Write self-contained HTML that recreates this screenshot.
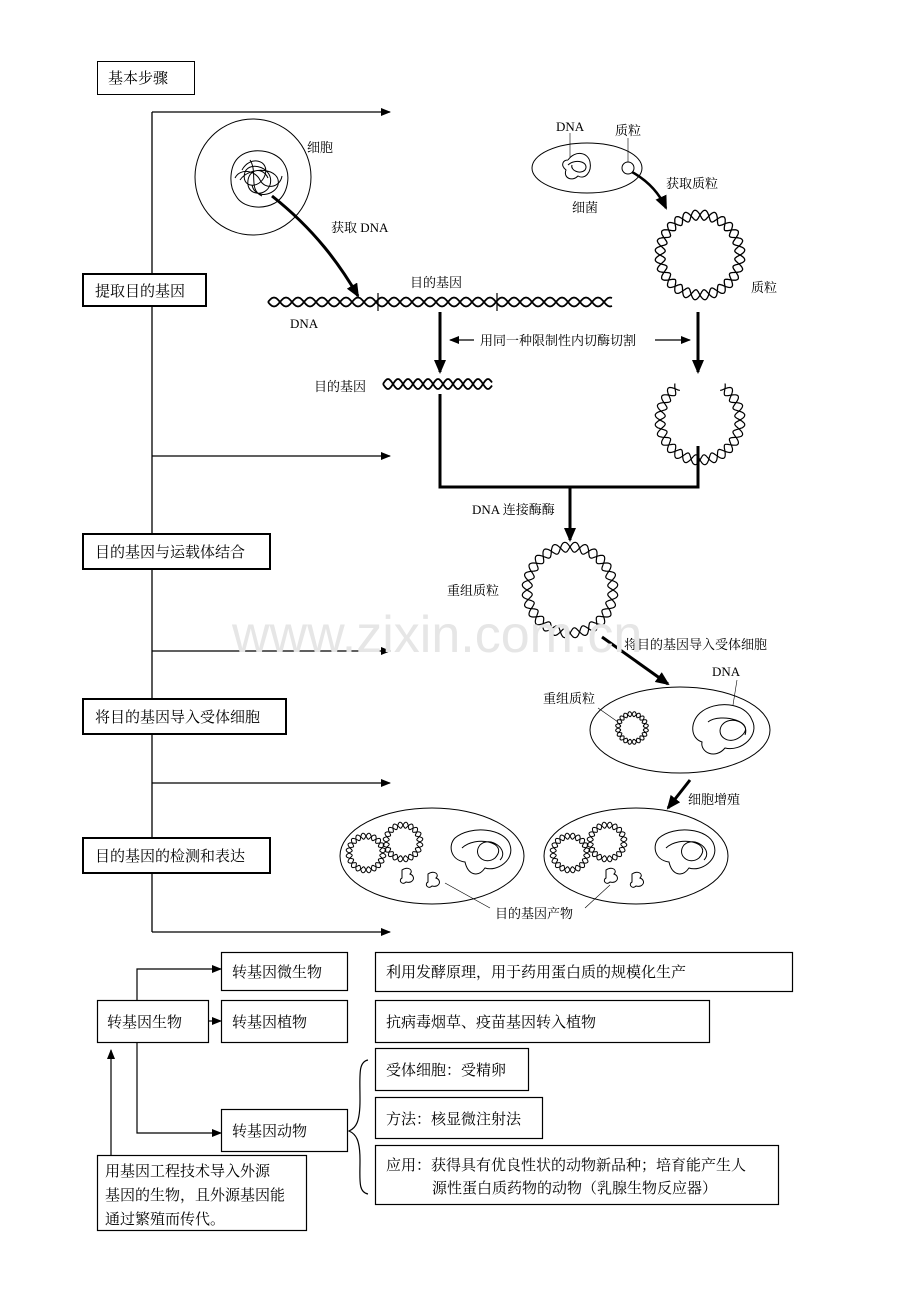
<!DOCTYPE html>
<html><head><meta charset="utf-8">
<style>
html,body{margin:0;padding:0;background:#fff;}
svg{display:block;}
text{font-family:"Liberation Serif","Noto Serif CJK SC",serif;font-size:13px;fill:#000;}
.b text{font-size:15px;}
</style></head>
<body>
<svg id="s" width="920" height="1302" viewBox="0 0 920 1302" xmlns="http://www.w3.org/2000/svg">
<defs>
<marker id="a" markerWidth="10" markerHeight="8" refX="9" refY="4" orient="auto" markerUnits="userSpaceOnUse"><path d="M0,0 L10,4 L0,8 z" fill="#000"/></marker>
<marker id="ab" markerWidth="14" markerHeight="12" refX="12" refY="6" orient="auto" markerUnits="userSpaceOnUse"><path d="M0,0 L14,6 L0,12 z" fill="#000"/></marker>
</defs>
<g fill="none" stroke="#000" stroke-width="1.3">
<line x1="152" y1="112" x2="152" y2="932"/>
<line x1="152" y1="112" x2="390" y2="112" marker-end="url(#a)"/>
<line x1="152" y1="456" x2="390" y2="456" marker-end="url(#a)"/>
<line x1="152" y1="651" x2="390" y2="651" marker-end="url(#a)"/>
<line x1="152" y1="783" x2="390" y2="783" marker-end="url(#a)"/>
<line x1="152" y1="932" x2="390" y2="932" marker-end="url(#a)"/>
</g>
<g fill="#fff" stroke="#000">
<rect x="97.5" y="61.5" width="97" height="33" stroke-width="1"/>
<rect x="83" y="274" width="123" height="32" stroke-width="2"/>
<rect x="83" y="534" width="187" height="35" stroke-width="2"/>
<rect x="83" y="699" width="203" height="35" stroke-width="2"/>
<rect x="83" y="838" width="187" height="35" stroke-width="2"/>
</g>
<g class="b">
<text x="108" y="83">基本步骤</text>
<text x="95" y="296">提取目的基因</text>
<text x="95" y="557">目的基因与运载体结合</text>
<text x="95" y="722">将目的基因导入受体细胞</text>
<text x="95" y="861">目的基因的检测和表达</text>
</g>
<g fill="none" stroke="#000" stroke-width="1">
<circle cx="253" cy="177" r="58"/>
<path d="M238,158 C250,146 275,150 283,162 C292,175 288,195 275,203 C262,210 243,208 236,196 C228,185 230,166 238,158 Z"/>
<path d="M242,170 C250,155 270,160 265,175 C260,190 240,188 245,172 C250,160 275,168 270,185 C266,196 250,196 248,185 C246,170 262,165 268,178 M240,180 C250,165 282,168 278,185 C275,195 255,200 252,185" />
<path d="M235,178 C240,168 255,170 260,180 C265,190 280,188 282,176 M250,160 C258,172 248,190 262,196"/>
<ellipse cx="587" cy="168" rx="55" ry="25"/>
<circle cx="628" cy="168" r="6"/>
<path d="M568,160 C575,150 588,152 590,162 C592,172 585,180 578,176 C572,182 563,178 566,170 C560,165 563,160 568,160 M568,165 C575,158 590,162 585,170 C580,175 570,170 572,165"/>
<line x1="570" y1="133" x2="570" y2="157" stroke-width="0.6"/>
<line x1="628" y1="138" x2="628" y2="162" stroke-width="0.6"/>
<ellipse cx="680" cy="730" rx="90" ry="43"/>
<path d="M700,713 C715,700 745,702 752,720 C760,735 742,752 725,748 C715,760 700,752 702,742 C690,738 690,722 700,713 M708,722 C720,712 760,722 740,737 C728,746 715,735 722,725 C730,715 750,722 745,735"/>
<line x1="598" y1="708" x2="618" y2="722" stroke-width="0.6"/>
<line x1="737" y1="680" x2="733" y2="705" stroke-width="0.6"/>
<ellipse cx="432" cy="856" rx="92" ry="48"/>
<ellipse cx="636" cy="856" rx="92" ry="48"/>
<path d="M455,838 C470,825 505,828 510,845 C515,860 497,872 485,868 C478,878 468,875 465,862 C450,860 448,845 455,838 M462,848 C475,835 510,842 495,858 C485,866 472,855 480,845 C490,835 510,850 500,860"/>
<path d="M659,838 C674,825 709,828 714,845 C719,860 701,872 689,868 C682,878 672,875 669,862 C654,860 652,845 659,838 M666,848 C679,835 714,842 699,858 C689,866 676,855 684,845 C694,835 714,850 704,860"/>
<path d="M402,870 C408,866 414,870 410,874 C416,876 414,884 406,882 C402,886 398,880 402,878 Z"/>
<path d="M428,874 C434,870 440,874 436,878 C442,880 440,888 432,886 C428,890 424,884 428,882 Z"/>
<path d="M606,870 C612,866 618,870 614,874 C620,876 618,884 610,882 C606,886 602,880 606,878 Z"/>
<path d="M632,874 C638,870 644,874 640,878 C646,880 644,888 636,886 C632,890 628,884 632,882 Z"/>
<line x1="445" y1="883" x2="490" y2="908" stroke-width="0.6"/>
<line x1="610" y1="885" x2="585" y2="908" stroke-width="0.6"/>
</g>
<g id="hx" fill="none" stroke="#000" stroke-width="1.1"></g>
<g fill="none" stroke="#000" stroke-width="3">
<path d="M272,196 C315,230 340,265 358,296" marker-end="url(#ab)"/>
<path d="M632,172 C650,182 660,195 666,208" marker-end="url(#ab)" stroke-width="2.5"/>
<line x1="440" y1="312" x2="440" y2="372" marker-end="url(#ab)"/>
<line x1="698" y1="312" x2="698" y2="372" marker-end="url(#ab)"/>
<polyline points="440,394 440,487 698,487 698,446"/>
<line x1="570" y1="487" x2="570" y2="540" marker-end="url(#ab)"/>
<line x1="602" y1="637" x2="668" y2="684" marker-end="url(#ab)"/>
<line x1="690" y1="780" x2="668" y2="808" marker-end="url(#ab)"/>
</g>
<g stroke="#000" stroke-width="1.2" fill="none">
<line x1="474" y1="340" x2="450" y2="340" marker-end="url(#a)"/>
<line x1="655" y1="340" x2="690" y2="340" marker-end="url(#a)"/>
<line x1="378" y1="293" x2="378" y2="311"/>
<line x1="497" y1="293" x2="497" y2="311"/>
</g>
<text x="307" y="152">细胞</text>
<text x="331" y="232">获取 DNA</text>
<text x="556" y="131">DNA</text>
<text x="615" y="135">质粒</text>
<text x="572" y="212">细菌</text>
<text x="666" y="188">获取质粒</text>
<text x="751" y="292">质粒</text>
<text x="410" y="287">目的基因</text>
<text x="290" y="328">DNA</text>
<text x="480" y="345">用同一种限制性内切酶切割</text>
<text x="314" y="391">目的基因</text>
<text x="472" y="514">DNA 连接酶酶</text>
<text x="447" y="595">重组质粒</text>
<text x="624" y="649">将目的基因导入受体细胞</text>
<text x="712" y="676">DNA</text>
<text x="543" y="703">重组质粒</text>
<text x="688" y="804">细胞增殖</text>
<text x="495" y="918">目的基因产物</text>
<g fill="none" stroke="#000" stroke-width="1.2">
<polyline points="137,1000 137,969 221,969" marker-end="url(#a)"/>
<line x1="208" y1="1021" x2="221" y2="1021" marker-end="url(#a)"/>
<polyline points="137,1043 137,1133 221,1133" marker-end="url(#a)"/>
<line x1="111" y1="1155" x2="111" y2="1050" marker-end="url(#a)"/>
<path d="M368,1060 C358,1062 360,1075 360,1100 C360,1122 356,1128 349,1131 C356,1134 360,1140 360,1160 C360,1180 358,1192 368,1194"/>
<rect x="97.5" y="1000.5" width="111" height="42"/>
<rect x="221.5" y="952.5" width="126" height="38"/>
<rect x="221.5" y="1000.5" width="126" height="42"/>
<rect x="221.5" y="1109.5" width="126" height="42"/>
<rect x="375.5" y="952.5" width="417" height="39"/>
<rect x="375.5" y="1000.5" width="334" height="42"/>
<rect x="375.5" y="1048.5" width="153" height="42"/>
<rect x="375.5" y="1097.5" width="167" height="41"/>
<rect x="375.5" y="1145.5" width="403" height="59"/>
<rect x="97.5" y="1155.5" width="209" height="75"/>
</g>
<g class="b">
<text x="107" y="1027">转基因生物</text>
<text x="232" y="977">转基因微生物</text>
<text x="232" y="1027">转基因植物</text>
<text x="232" y="1136">转基因动物</text>
<text x="386" y="977">利用发酵原理，用于药用蛋白质的规模化生产</text>
<text x="386" y="1027">抗病毒烟草、疫苗基因转入植物</text>
<text x="386" y="1075">受体细胞：受精卵</text>
<text x="386" y="1124">方法：核显微注射法</text>
<text x="386" y="1170">应用：获得具有优良性状的动物新品种；培育能产生人</text>
<text x="432" y="1193">源性蛋白质药物的动物（乳腺生物反应器）</text>
<text x="105" y="1176">用基因工程技术导入外源</text>
<text x="105" y="1200">基因的生物，且外源基因能</text>
<text x="105" y="1224">通过繁殖而传代。</text>
</g>
<text x="232" y="652" style="font-family:'Liberation Sans',sans-serif;font-size:52px;fill:#e6e6e6">www.zixin.com.cn</text>
<script>
(function(){
var g=document.getElementById('hx'),ns='http://www.w3.org/2000/svg';
function add(d,w){var p=document.createElementNS(ns,'path');p.setAttribute('d',d);if(w)p.setAttribute('stroke-width',w);g.appendChild(p);}
function line(x1,x2,y,per,amp,w){
  var a='',b='';for(var x=x1;x<=x2;x+=1){var t=(x-x1)/per*2*Math.PI;var y1=y+amp*Math.sin(t),y2=y-amp*Math.sin(t);
  a+=(x==x1?'M':'L')+x+','+y1.toFixed(1);b+=(x==x1?'M':'L')+x+','+y2.toFixed(1);}add(a,w);add(b,w);}
function ring(cx,cy,r,n,amp,a0,a1,w){
  a0=a0||0;a1=a1||2*Math.PI;var a='',b='',N=400;for(var i=0;i<=N;i++){var th=a0+(a1-a0)*i/N;var s=amp*Math.sin(th*n);
  var x1=cx+(r+s)*Math.cos(th),y1=cy+(r+s)*Math.sin(th),x2=cx+(r-s)*Math.cos(th),y2=cy+(r-s)*Math.sin(th);
  a+=(i?'L':'M')+x1.toFixed(1)+','+y1.toFixed(1);b+=(i?'L':'M')+x2.toFixed(1)+','+y2.toFixed(1);}add(a,w);add(b,w);}
line(268,612,302,24,4.5,1.8);
line(383,492,384,20,5,1.8);
ring(700,255,40,14,5,0,0,1.3);
ring(700,420,40,14,5,-Math.PI/2+0.6,3*Math.PI/2-0.6,1.2);
ring(570,590,43,14,5,0,0,1.2);
ring(632,728,14,10,2.5,0,0,1);
ring(366,853,17,10,3,0,0,1);ring(403,842,17,10,3,0,0,1);
ring(570,853,17,10,3,0,0,1);ring(607,842,17,10,3,0,0,1);
})();
</script>
</svg>
</body></html>
